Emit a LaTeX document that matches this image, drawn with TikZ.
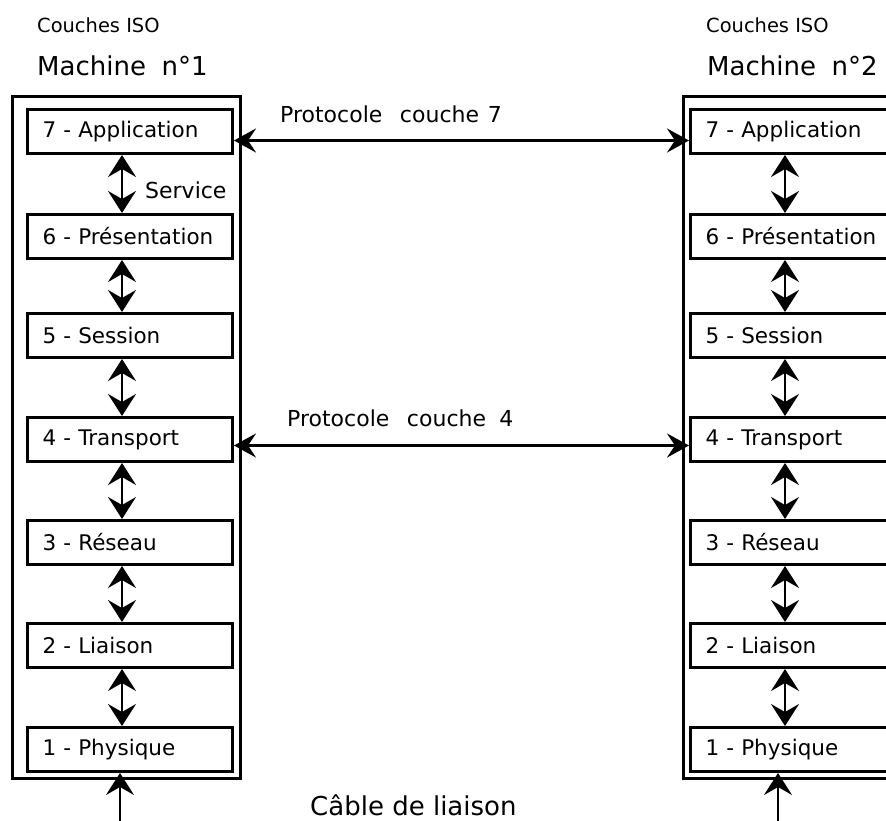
\documentclass[tikz,border=0pt]{standalone}
\usepackage{fontspec}
\usepackage{graphicx}
\setmainfont{DejaVu Sans}
\usetikzlibrary{arrows.meta}
\newcommand{\isotxt}[1]{\scalebox{0.81}{\fontsize{24}{28}\selectfont #1}}
\begin{document}
\begin{tikzpicture}[x=1pt,y=-1pt,
  layer/.style={draw, line width=3pt, minimum width=205pt, minimum height=44pt,
    inner xsep=0pt, inner ysep=0pt, text width=205pt, align=left, anchor=north west,
    font=\fontsize{21.5}{25}\selectfont},
  machine/.style={draw, line width=3pt, minimum width=228pt, minimum height=682pt,
    anchor=north west, inner sep=0pt},
  vtip/.tip={Stealth[length=22pt,width=28pt,inset=8pt]},
  htip/.tip={Stealth[length=22pt,width=24pt,inset=8pt]},
  varrow/.style={line width=2pt, vtip-vtip},
  uparrow/.style={line width=2pt, -vtip},
  harrow/.style={line width=3pt, htip-htip},
  isolbl/.style={anchor=west, inner sep=0pt},
  biglbl/.style={anchor=west, inner sep=0pt, font=\fontsize{26}{30}\selectfont},
  midlbl/.style={anchor=west, inner sep=0pt, font=\fontsize{22}{25}\selectfont}
]
\useasboundingbox (0,0) rectangle (886,821);
\clip (0,0) rectangle (886,821);

% titles
\node[isolbl] (t1) at (37,25) {\isotxt{Couches ISO}};
\node[biglbl] (m1t) at (37,66) {Machine\hspace{0.6em}n°1};
\node[isolbl] (t2) at (706,25) {\isotxt{Couches ISO}};
\node[biglbl] (m2t) at (707,66) {Machine\hspace{0.6em}n°2};

% machine frames
\node[machine] (m1) at (11,95) {};
\node[machine] (m2) at (682,95) {};

% left layers
\node[layer] (a7) at (26,108) {\hspace*{15pt}7 - Application};
\node[layer] (a6) at (26,213) {\hspace*{15pt}6 - Présentation};
\node[layer] (a5) at (26,312) {\hspace*{15pt}5 - Session};
\node[layer] (a4) at (26,416) {\hspace*{15pt}4 - Transport};
\node[layer] (a3) at (26,519) {\hspace*{15pt}3 - Réseau};
\node[layer] (a2) at (26,622) {\hspace*{15pt}2 - Liaison};
\node[layer] (a1) at (26,726) {\hspace*{15pt}1 - Physique};

% right layers
\node[layer] (b7) at (689,108) {\hspace*{15pt}7 - Application};
\node[layer] (b6) at (689,213) {\hspace*{15pt}6 - Présentation};
\node[layer] (b5) at (689,312) {\hspace*{15pt}5 - Session};
\node[layer] (b4) at (689,416) {\hspace*{15pt}4 - Transport};
\node[layer] (b3) at (689,519) {\hspace*{15pt}3 - Réseau};
\node[layer] (b2) at (689,622) {\hspace*{15pt}2 - Liaison};
\node[layer] (b1) at (689,726) {\hspace*{15pt}1 - Physique};

% vertical service arrows
\foreach \u/\l in {7/6,6/5,5/4,4/3,3/2,2/1}{
  \draw[varrow] ([xshift=-8pt]a\u.south) -- ([xshift=-8pt]a\l.north);
  \draw[varrow] ([xshift=-8pt]b\u.south) -- ([xshift=-8pt]b\l.north);
}
\node[midlbl] (svc) at (145,190) {Service};

% cable arrows
\path ([xshift=-10pt]a1.south) ++(0,70) coordinate (ca);
\path ([xshift=-15pt]b1.south) ++(0,70) coordinate (cb);
\draw[uparrow] (ca) -- ([xshift=-10pt]a1.south);
\draw[uparrow] (cb) -- ([xshift=-15pt]b1.south);
\node[biglbl] (cable) at (310,805) {Câble de liaison};

% protocol arrows
\draw[harrow] ([yshift=-9pt]a7.east) -- ([yshift=-9pt]b7.west);
\node[midlbl] (p7) at (280,114) {Protocole\hspace{0.8em}couche\hspace{0.4em}7};
\draw[harrow] ([yshift=-6pt]a4.east) -- ([yshift=-6pt]b4.west);
\node[midlbl] (p4) at (287,418) {Protocole\hspace{0.8em}couche\hspace{0.6em}4};
\end{tikzpicture}
\end{document}
